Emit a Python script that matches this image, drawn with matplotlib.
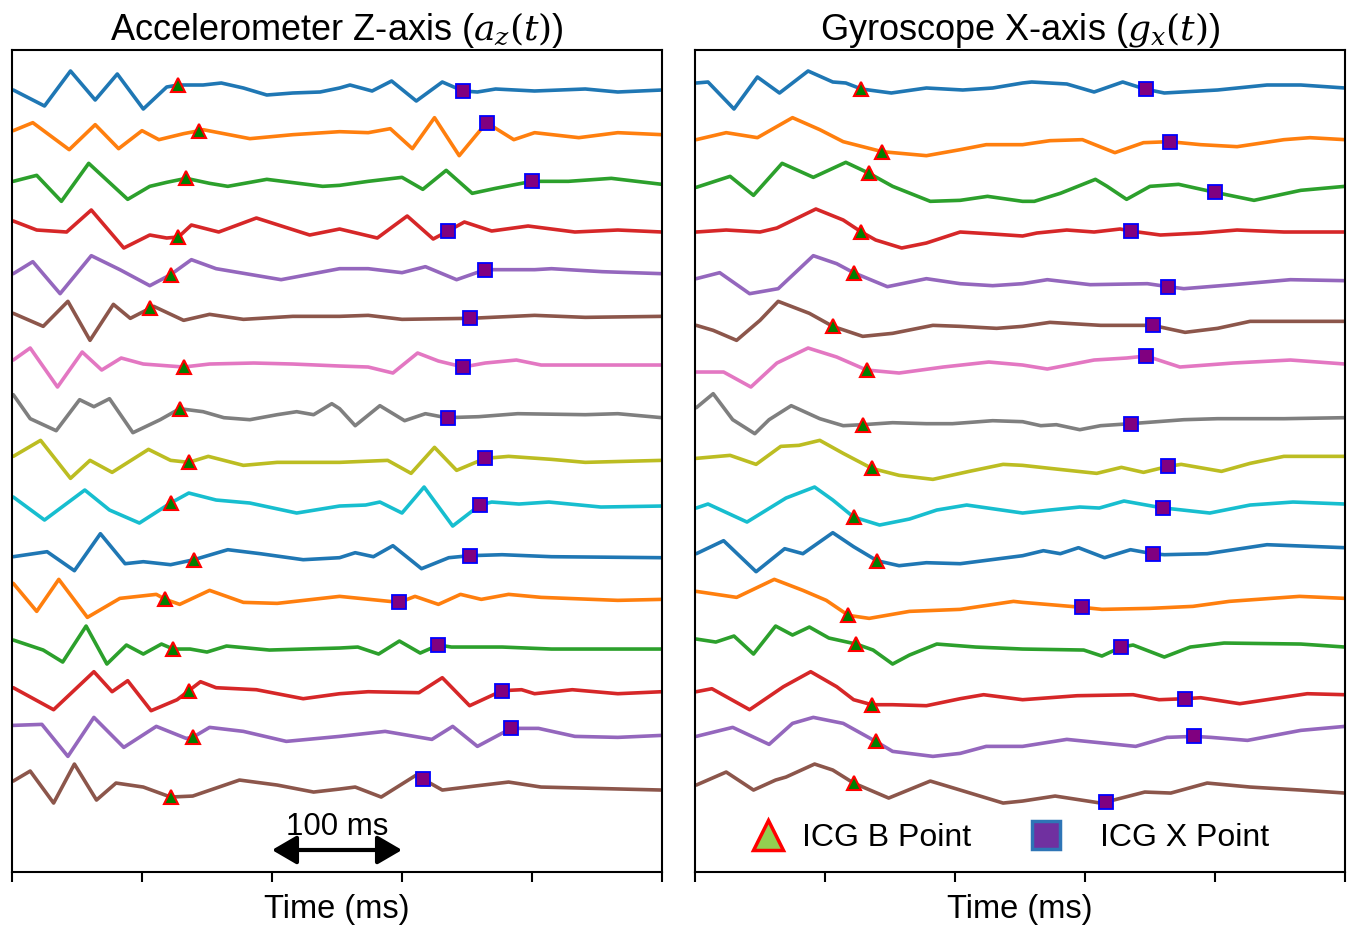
import numpy as np
import matplotlib
matplotlib.use("Agg")
import matplotlib.pyplot as plt
from matplotlib.lines import Line2D

plt.rcParams["font.family"] = ["Liberation Sans", "DejaVu Sans"]
plt.rcParams["mathtext.fontset"] = "dejavuserif"

# traces: (time ms, amplitude) per beat, top to bottom
az_01 = [(1, 0), (25, -16), (45, 19), (64, -10), (81, 16), (101, -19), (119, 3), (128, 5), (147, 5), (161, 7), (178, 2), (196, -5), (216, -3), (237, -2), (252, 2), (260, 5), (277, -1), (292, 9), (311, -11), (331, 8), (347, -1), (358, -2), (372, 1), (402, -1), (441, 1), (466, -2), (500, 0)]
az_02 = [(1, 6), (16, 14), (44, -13), (64, 12), (82, -12), (100, 6), (113, -3), (132, 3), (144, 6), (147, 7), (183, -2), (216, 2), (252, 5), (274, 4), (291, 8), (308, -12), (325, 19), (344, -19), (365, 14), (386, -3), (402, 4), (436, -1), (466, 4), (500, 2)]
az_03 = [(1, 2), (19, 8), (38, -18), (59, 20), (89, -16), (106, -3), (119, 1), (134, 5), (152, 0), (166, -3), (196, 4), (239, -3), (252, -2), (274, 2), (300, 6), (316, -6), (334, 13), (354, -10), (372, -5), (400, 2), (428, 2), (461, 5), (500, -1)]
az_04 = [(1, 9), (19, 0), (42, -2), (61, 20), (86, -18), (106, -5), (119, -8), (128, -7), (138, 5), (159, -2), (188, 12), (229, -5), (252, 1), (281, -8), (304, 14), (324, -9), (334, -2), (348, 8), (369, -1), (397, 4), (433, -2), (466, 0), (500, -2)]
az_05 = [(1, 3), (16, 15), (37, -17), (61, 21), (83, 7), (106, -9), (122, 2), (138, 17), (157, 8), (207, -3), (252, 8), (274, 8), (300, 4), (318, 10), (342, -3), (364, 7), (402, 7), (415, 8), (454, 5), (500, 3)]
az_06 = [(1, 10), (24, -3), (43, 22), (60, -17), (78, 19), (91, 5), (106, 15), (109, 17), (132, 3), (152, 9), (178, 4), (216, 7), (252, 7), (274, 8), (300, 4), (352, 5), (402, 8), (441, 6), (500, 7)]
az_07 = [(1, 10), (14, 22), (35, -17), (54, 18), (69, 0), (84, 12), (101, 6), (132, 3), (152, 6), (186, 7), (216, 6), (252, 4), (274, 3), (293, -3), (312, 17), (328, 9), (347, 3), (364, 7), (388, 10), (407, 5), (500, 5)]
az_08 = [(1, 22), (14, -2), (34, -14), (52, 17), (63, 10), (75, 18), (93, -16), (114, -3), (129, 8), (147, 5), (163, -1), (183, -3), (204, 2), (219, 5), (232, 2), (246, 13), (252, 8), (264, -9), (283, 11), (302, -4), (318, 3), (334, -1), (359, 0), (389, 3), (441, 2), (466, 3), (500, -1)]
az_09 = [(1, 7), (22, 23), (45, -15), (60, 3), (77, -9), (105, 14), (122, 3), (136, 1), (151, 7), (178, -2), (204, 1), (252, 1), (289, 3), (307, -10), (325, 16), (342, -7), (364, 5), (382, 7), (415, 4), (441, 1), (500, 3)]
az_10 = [(1, 13), (25, -10), (56, 20), (75, 0), (98, -13), (122, 7), (136, 17), (157, 10), (183, 7), (219, -3), (252, 4), (272, 5), (283, 8), (300, -3), (317, 23), (339, -16), (360, 5), (369, 8), (390, 6), (413, 8), (453, 3), (500, 4)]
az_11 = [(1, 0), (27, 5), (48, -14), (68, 23), (87, -7), (101, -5), (122, -8), (140, -3), (166, 7), (191, 3), (224, -3), (252, -1), (264, 4), (278, 0), (293, 11), (315, -12), (336, -1), (352, 1), (377, 2), (415, 0), (500, -1)]
az_12 = [(1, 20), (19, -8), (36, 24), (58, -14), (83, 5), (111, 9), (118, 4), (129, -1), (152, 13), (178, 1), (204, 0), (252, 7), (298, 1), (310, 7), (328, -1), (345, 9), (361, 4), (382, 9), (407, 6), (466, 3), (500, 4)]
az_13 = [(1, 10), (24, 0), (39, -12), (57, 24), (73, -14), (88, 5), (101, -4), (115, 6), (124, 1), (137, 1), (150, -2), (165, 4), (198, 0), (252, 2), (266, 3), (282, -4), (298, 9), (314, -3), (328, 5), (338, 3), (377, 3), (415, 1), (500, 1)]
az_14 = [(1, 9), (32, -13), (63, 25), (77, 5), (89, 16), (107, -14), (127, -3), (136, 6), (145, 15), (157, 9), (188, 7), (224, -2), (252, 3), (274, 5), (313, 4), (331, 19), (352, -9), (377, 6), (392, 7), (402, 3), (431, 7), (466, 3), (500, 5)]
az_15 = [(1, 18), (23, 19), (43, -13), (63, 26), (86, -4), (111, 17), (134, 5), (139, 6), (152, 16), (178, 12), (211, 2), (252, 7), (287, 12), (323, 4), (339, 17), (358, -3), (384, 15), (405, 15), (433, 7), (466, 6), (500, 8)]
az_16 = [(1, 9), (14, 19), (32, -13), (48, 26), (65, -10), (80, 7), (101, 3), (122, -7), (139, -6), (175, 10), (204, 5), (232, -2), (252, 1), (264, 3), (284, -7), (311, 15), (316, 11), (331, 0), (356, 4), (382, 8), (407, 3), (500, 0)]

gx_01 = [(1, 7), (10, 8), (30, -19), (48, 13), (65, -3), (87, 19), (106, 8), (116, 7), (128, 1), (151, -3), (178, 2), (206, 0), (229, 2), (252, 7), (259, 8), (286, 6), (307, -2), (329, 8), (346, 1), (361, -3), (402, 0), (440, 5), (466, 5), (500, 2)]
gx_02 = [(1, -3), (24, 4), (48, -1), (75, 19), (96, 7), (114, -5), (144, -15), (178, -19), (204, -13), (224, -8), (252, -8), (273, -4), (298, -3), (323, -16), (345, -6), (365, -5), (389, -8), (417, -10), (453, -3), (473, -1), (500, -3)]
gx_03 = [(1, -4), (27, 7), (45, -12), (67, 20), (91, 6), (116, 21), (134, 10), (152, -3), (181, -18), (204, -17), (225, -13), (252, -18), (261, -18), (281, -10), (308, 4), (317, -3), (332, -16), (350, -3), (372, -1), (400, -9), (430, -17), (466, -7), (500, -3)]
gx_04 = [(1, -2), (24, 0), (50, -2), (63, 2), (93, 21), (114, 10), (128, -2), (139, -10), (159, -18), (178, -13), (204, -2), (229, -4), (252, -6), (263, -3), (286, 0), (307, -2), (327, 1), (335, -1), (358, -5), (389, -3), (417, 0), (453, -2), (500, -2)]
gx_05 = [(1, -2), (19, 4), (42, -17), (64, -12), (91, 21), (109, 13), (122, 4), (148, -10), (178, -2), (204, -7), (229, -9), (252, -7), (271, -3), (304, -8), (348, -7), (364, -10), (376, -12), (414, -8), (458, -3), (500, -4)]
gx_06 = [(1, -2), (14, -7), (32, -17), (50, 3), (64, 22), (88, 10), (106, -3), (129, -13), (152, -10), (183, -2), (204, -3), (232, -5), (252, -3), (273, 1), (312, -2), (352, -2), (377, -9), (402, -5), (427, 2), (500, 2)]
gx_07 = [(1, -2), (22, -2), (43, -17), (63, 7), (87, 22), (109, 13), (132, 0), (157, -3), (191, 3), (226, 8), (252, 5), (271, 1), (307, 10), (332, 12), (347, 14), (373, 3), (414, 7), (458, 10), (500, 6)]
gx_08 = [(1, 9), (14, 23), (29, -3), (46, -17), (57, -3), (74, 11), (96, -2), (114, -9), (129, -8), (152, -6), (178, -7), (198, -7), (229, -4), (252, -5), (266, -9), (278, -8), (296, -13), (312, -9), (335, -7), (376, -3), (402, -2), (453, -2), (500, -1)]
gx_09 = [(1, 5), (27, 8), (47, -1), (66, 17), (80, 18), (96, 23), (114, 10), (136, -5), (157, -12), (183, -16), (211, -8), (237, -1), (252, -2), (273, -5), (309, -10), (328, -4), (345, -9), (364, -3), (374, -1), (405, -8), (427, 0), (453, 7), (500, 7)]
gx_10 = [(1, 2), (10, 6), (40, -12), (70, 12), (92, 23), (106, 10), (122, -7), (142, -15), (165, -9), (186, 0), (209, 5), (252, -3), (273, 0), (296, 3), (311, 2), (330, 9), (360, 2), (368, 1), (396, -3), (427, 5), (460, 8), (500, 6)]
gx_11 = [(1, 3), (22, 16), (47, -15), (69, 8), (83, 3), (106, 24), (122, 10), (140, -4), (157, -9), (178, -6), (204, -7), (252, 1), (268, 6), (281, 3), (295, 9), (315, -1), (335, 7), (352, 3), (361, 2), (394, 3), (440, 12), (500, 9)]
gx_12 = [(1, 12), (32, 6), (61, 24), (83, 13), (101, 3), (118, -12), (134, -15), (165, -8), (204, -6), (245, 2), (252, 1), (298, -4), (313, -6), (350, -5), (383, -3), (411, 2), (465, 7), (500, 5)]
gx_13 = [(1, 11), (16, 8), (30, 14), (45, -4), (62, 24), (75, 15), (88, 23), (103, 12), (124, 6), (137, 0), (152, -14), (165, -5), (186, 6), (216, 3), (252, 1), (299, 0), (313, -6), (328, 3), (337, 5), (361, -7), (381, 3), (407, 7), (466, 6), (500, 3)]
gx_14 = [(1, 5), (13, 8), (42, -13), (68, 10), (89, 25), (109, 10), (122, -3), (136, -8), (152, -8), (178, -9), (204, -2), (222, 2), (252, -3), (294, 1), (337, 2), (357, -3), (377, -2), (389, -1), (419, -7), (471, 3), (500, 2)]
gx_15 = [(1, 7), (29, 16), (57, -1), (75, 20), (91, 26), (114, 20), (139, 2), (152, -8), (183, -13), (204, -10), (224, -3), (252, -3), (286, 4), (339, -3), (363, 6), (384, 7), (397, 6), (425, 3), (466, 13), (500, 17)]
gx_16 = [(1, 5), (24, 18), (45, 0), (62, 10), (70, 13), (92, 26), (106, 20), (122, 7), (149, -8), (181, 9), (204, 0), (237, -13), (252, -11), (277, -6), (312, -13), (316, -12), (346, -2), (366, -3), (394, 7), (427, 3), (466, 0), (500, -3)]

ACC = [az_01, az_02, az_03, az_04, az_05, az_06, az_07, az_08,
       az_09, az_10, az_11, az_12, az_13, az_14, az_15, az_16]
GYR = [gx_01, gx_02, gx_03, gx_04, gx_05, gx_06, gx_07, gx_08,
       gx_09, gx_10, gx_11, gx_12, gx_13, gx_14, gx_15, gx_16]

# ICG fiducials (ms) per beat, same events in both sensors
B_MS = [128, 144, 134, 128, 122, 106, 132, 129, 136, 122, 140, 118, 124, 136, 139, 122]
X_MS = [347, 365, 400, 335, 364, 352, 347, 335, 364, 360, 352, 298, 328, 377, 384, 316]

TICKS_MS = [0, 100, 200, 300, 400, 500]
SPACING = 46.67


def draw_panel(ax, traces, title):
    for i, tr in enumerate(traces):
        t = np.array([p[0] for p in tr], float)
        v = np.array([p[1] for p in tr], float) - SPACING * i
        ax.plot(t, v, color=f"C{i % 10}", lw=2.6, solid_joinstyle="round",
                solid_capstyle="round", zorder=2)
        ax.plot(B_MS[i], np.interp(B_MS[i], t, v), ls="none", marker="^", ms=10,
                mfc="green", mec="red", mew=1.5, zorder=3)
        ax.plot(X_MS[i], np.interp(X_MS[i], t, v), ls="none", marker="s", ms=10,
                mfc="purple", mec="blue", mew=1.3, zorder=3)
    ax.set_xlim(0, 500)
    ax.set_ylim(-782, 40)
    ax.set_xticks(TICKS_MS)
    ax.set_xticklabels([])
    ax.set_yticks([])
    ax.tick_params(axis="x", length=7, width=1.5)
    for s in ax.spines.values():
        s.set_linewidth(1.5)
    ax.set_xlabel("Time (ms)", fontsize=23.5, labelpad=5)
    ax.set_title(title, fontsize=26, pad=5)


fig = plt.figure(figsize=(13.47, 9.27), dpi=100)
ax1 = fig.add_axes([12 / 1347, 55 / 927, 650 / 1347, 822 / 927])
ax2 = fig.add_axes([695 / 1347, 55 / 927, 650 / 1347, 822 / 927])

draw_panel(ax1, ACC, r"Accelerometer Z-axis ($a_z(t)$)")
draw_panel(ax2, GYR, r"Gyroscope X-axis ($g_x(t)$)")

# 100 ms scale bar
ax1.annotate("", xy=(300, -760), xytext=(200, -760),
             arrowprops=dict(arrowstyle="<|-|>,head_length=0.6,head_width=0.35",
                             lw=3, color="black", mutation_scale=25,
                             shrinkA=0, shrinkB=0))
ax1.text(250, -745, "100 ms", ha="center", va="baseline", fontsize=22.5)

hb = Line2D([], [], ls="none", marker="^", ms=21, mfc="#92D050", mec="#FF0000",
            mew=2.5, label="ICG B Point")
hx = Line2D([], [], ls="none", marker="s", ms=20, mfc="#7030A0", mec="#2E75B6",
            mew=2.5, label="ICG X Point")
leg1 = ax2.legend(handles=[hb], loc="center left", bbox_to_anchor=(0.088, 0.041),
                  frameon=False, fontsize=23, handlelength=1.0, handletextpad=0.55,
                  borderpad=0, borderaxespad=0)
ax2.add_artist(leg1)
ax2.legend(handles=[hx], loc="center left", bbox_to_anchor=(0.515, 0.041),
           frameon=False, fontsize=23, handlelength=1.0, handletextpad=1.2,
           borderpad=0, borderaxespad=0)

fig.savefig("out.png", dpi=100)
